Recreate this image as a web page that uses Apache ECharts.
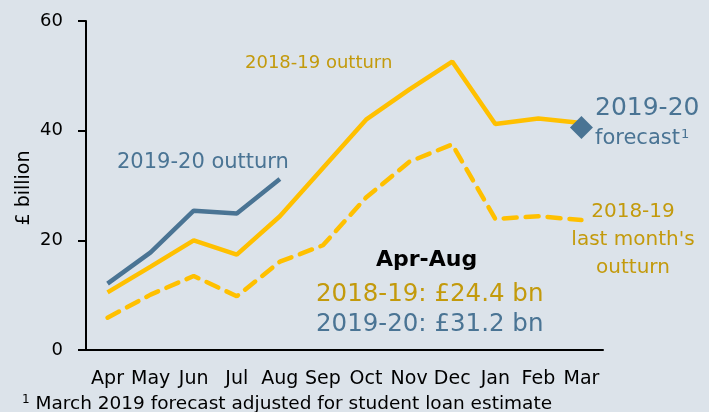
<!DOCTYPE html>
<html>
<head>
<meta charset="utf-8">
<script src="https://cdn.jsdelivr.net/npm/echarts@6/dist/echarts.min.js"></script>
<style>
  html, body { margin: 0; padding: 0; background: #dce3ea; }
  #chart { width: 709px; height: 412px; }
</style>
</head>
<body>
<div id="chart"></div>
<script>
  // months of the financial year
  var months = ['Apr', 'May', 'Jun', 'Jul', 'Aug', 'Sep', 'Oct', 'Nov', 'Dec', 'Jan', 'Feb', 'Mar'];
  var yTicks = [0, 20, 40, 60];
  // cumulative borrowing, £ billion
  var outturn1819 = [10.5, 15.2, 20.0, 17.4, 24.4, 33.2, 42.0, 47.5, 52.6, 41.2, 42.2, 41.4];
  var lastMonth1819 = [5.9, 10.1, 13.5, 9.8, 16.1, 19.1, 27.8, 34.3, 37.5, 23.9, 24.4, 23.7];
  var outturn1920 = [12.1, 17.8, 25.4, 24.9, 31.2];
  var forecast1920 = ['-', '-', '-', '-', '-', '-', '-', '-', '-', '-', '-', 40.6];

  var gold = '#ffc000';
  var goldText = '#c39a0c';
  var blue = '#4a7494';
  var font = 'DejaVu Sans';

  // annotation text, placed by its left edge (or centre) and vertical middle
  function label(txt, x, y, color, size, extra) {
    var st = { text: txt, fill: color, fontSize: size, fontFamily: font, verticalAlign: 'middle' };
    for (var k in extra) st[k] = extra[k];
    return { type: 'text', x: x, y: y, style: st };
  }
  function sup(size, color) {
    return { sup: { fontSize: size, fill: color, fontFamily: font, verticalAlign: 'top', padding: [0, 0, 8, 1] } };
  }

  var yName = label('£ billion', 24, 188, '#000', 19, { align: 'center' });
  yName.rotation = Math.PI / 2;

  var myChart = echarts.init(document.getElementById('chart'));
  var option = {
    backgroundColor: '#dce3ea',
    animation: false,
    textStyle: { fontFamily: font },
    grid: { left: 86, right: 106, top: 21, bottom: 62 },
    xAxis: {
      type: 'category',
      data: months,
      boundaryGap: true,
      axisLine: { lineStyle: { color: '#000', width: 2 } },
      axisTick: { interval: 0, length: 7, lineStyle: { color: '#000', width: 2 } },
      axisLabel: { interval: 0, color: '#000', fontSize: 19, margin: 20, fontFamily: font }
    },
    yAxis: {
      type: 'value',
      min: 0,
      max: 60,
      interval: 20,
      axisLine: { show: true, lineStyle: { color: '#000', width: 2 } },
      axisTick: { show: true, length: 8, lineStyle: { color: '#000', width: 2 } },
      splitLine: { show: false },
      axisLabel: {
        color: '#000', fontSize: 18, margin: 23, fontFamily: font,
        formatter: function (v) { return yTicks.indexOf(v) >= 0 ? v : ''; }
      }
    },
    series: [
      {
        name: '2018-19 last month\'s outturn',
        type: 'line',
        data: lastMonth1819,
        symbol: 'none',
        lineStyle: { color: gold, width: 4.5, type: [13, 9], cap: 'round' }
      },
      {
        name: '2018-19 outturn',
        type: 'line',
        data: outturn1819,
        symbol: 'none',
        lineStyle: { color: gold, width: 4.5 }
      },
      {
        name: '2019-20 outturn',
        type: 'line',
        data: outturn1920,
        symbol: 'none',
        lineStyle: { color: blue, width: 4.5 }
      },
      {
        name: '2019-20 forecast',
        type: 'scatter',
        data: forecast1920,
        symbol: 'diamond',
        symbolSize: [23, 23],
        z: 5,
        itemStyle: { color: blue, opacity: 1 }
      }
    ],
    graphic: [
      yName,
      label('2018-19 outturn', 245, 63, goldText, 18),
      label('2019-20 outturn', 117, 163, blue, 21),
      label('2019-20', 595, 108, blue, 25),
      label('forecast{sup|1}', 595, 139, blue, 21, { rich: sup(13, blue) }),
      label('2018-19', 633, 212, goldText, 20, { align: 'center' }),
      label('last month\'s', 633, 240, goldText, 20, { align: 'center' }),
      label('outturn', 633, 268, goldText, 20, { align: 'center' }),
      label('Apr-Aug', 376, 260, '#000', 22, { fontWeight: 'bold' }),
      label('2018-19: £24.4 bn', 316, 295, goldText, 24.5),
      label('2019-20: £31.2 bn', 316, 325, blue, 24.5),
      label('{sup|1} March 2019 forecast adjusted for student loan estimate', 21, 404, '#000', 18.5, { rich: sup(12, '#000') })
    ]
  };
  myChart.setOption(option);
</script>
</body>
</html>
